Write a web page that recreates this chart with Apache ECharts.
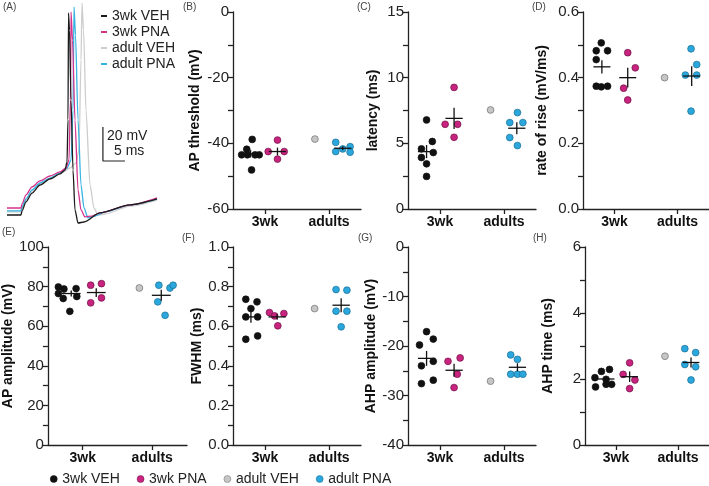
<!DOCTYPE html>
<html>
<head>
<meta charset="utf-8">
<script src="https://cdn.jsdelivr.net/npm/echarts@6/dist/echarts.min.js"></script>
<style>
  html, body { margin: 0; padding: 0; background: #fff; }
  #chart { width: 709px; height: 486px; }
</style>
</head>
<body>
<div id="chart"></div>
<script>
const groupNames = ['3wk VEH', '3wk PNA', 'adult VEH', 'adult PNA'];
const ageLabels = ['3wk', 'adults'];

// (A) example traces, [time ms, voltage mV]
const traceGrey = [[0,-79.4],[3.18,-79.4],[3.41,-77.1],[4.32,-72.4],[5.68,-67.1],[7.5,-63.0],[9.77,-60.0],[12.05,-57.1],[14.32,-53.6],[15.68,-50.7],[16.36,-43.0],[16.82,9.8],[17.05,43.2],[17.39,27.4],[17.95,-19.6],[18.86,-63.6],[19.77,-77.1],[20.68,-81.2],[22.27,-80.6],[27.95,-75.9],[34.1,-72.4]];
const traceBlue = [[0,-78.8],[3.18,-78.8],[3.41,-76.5],[4.32,-71.8],[5.68,-66.5],[7.5,-62.4],[9.77,-59.5],[12.05,-56.5],[13.64,-53.6],[14.55,-48.9],[15.0,-19.6],[15.23,40.9],[15.57,24.5],[16.14,-25.4],[16.82,-63.6],[17.5,-77.1],[18.41,-82.9],[20.0,-81.8],[22.27,-79.4],[27.95,-75.3],[34.1,-71.8]];
const tracePink = [[0,-77.1],[3.18,-77.1],[3.41,-74.7],[4.32,-69.4],[5.68,-64.7],[7.5,-61.2],[9.77,-58.3],[12.05,-55.9],[13.41,-53.6],[14.09,-48.9],[14.43,-13.7],[14.55,38.0],[14.89,21.5],[15.45,-25.4],[16.14,-66.5],[16.82,-78.2],[17.73,-82.3],[19.32,-81.8],[21.1,-80.0],[27.95,-75.3],[34.1,-71.2]];
const traceBlack = [[0,-81.2],[3.18,-81.2],[3.41,-78.8],[4.32,-73.5],[5.68,-68.3],[7.5,-63.6],[9.77,-60.0],[12.05,-57.1],[13.18,-54.8],[13.64,-50.1],[13.86,-25.4],[13.98,37.4],[14.2,27.4],[14.55,-13.7],[15.0,-54.8],[15.45,-78.2],[16.14,-85.9],[17.5,-85.3],[21.1,-80.0],[27.95,-75.3],[34.1,-71.8]];
const scaleBar = [[21.8,-29.5],[21.8,-49.5],[26.8,-49.5]]; // 20 mV, 5 ms

// group x positions: 3wk = 1, adults = 3
// (B) AP threshold (mV)
const thr3wkVeh = [[0.60,-38.8],[0.43,-41.8],[0.27,-43.5],[0.45,-43.5],[0.69,-43.5],[0.82,-43.5],[0.58,-48.1]];
const thr3wkPna = [[1.39,-39.0],[1.10,-42.5],[1.60,-42.5],[1.39,-44.8]];
const thrAdVeh = [[2.56,-38.7]];
const thrAdPna = [[3.21,-39.7],[3.21,-42.5],[3.43,-41.7],[3.66,-41.0],[3.66,-42.7]];
const thrMean = [[0.55,-43.2,1.1],[1.39,-42.5,1.2],[3.43,-41.5,0.6]];

// (C) latency (ms)
const lat3wkVeh = [[0.58,6.78],[0.76,5.14],[0.42,4.58],[0.79,4.30],[0.42,3.92],[0.58,3.44],[0.58,2.48]];
const lat3wkPna = [[1.44,9.26],[1.16,6.45],[1.55,6.45],[1.44,5.46]];
const latAdVeh = [[2.58,7.54]];
const latAdPna = [[3.42,7.34],[3.18,6.58],[3.59,6.58],[3.18,5.44],[3.42,4.83]];
const latMean = [[0.58,4.37,0.5],[1.44,6.9,0.8],[3.40,6.15,0.45]];

// (D) rate of rise (mV/ms)
const ror3wkVeh = [[0.58,0.506],[0.42,0.482],[0.78,0.482],[0.42,0.455],[0.42,0.374],[0.78,0.374],[0.58,0.372]];
const ror3wkPna = [[1.42,0.476],[1.66,0.430],[1.29,0.368],[1.42,0.332]];
const rorAdVeh = [[2.59,0.40]];
const rorAdPna = [[3.43,0.488],[3.61,0.44],[3.25,0.408],[3.61,0.408],[3.43,0.298]];
const rorMean = [[0.60,0.433,0.02],[1.42,0.40,0.03],[3.45,0.405,0.03]];

// (E) AP amplitude (mV)
const amp3wkVeh = [[0.30,79.8],[0.46,78.8],[0.81,79.0],[0.30,76.5],[0.83,75.0],[0.44,74.0],[0.63,67.5]];
const amp3wkPna = [[1.23,80.7],[1.54,81.5],[1.23,71.8],[1.54,74.3]];
const ampAdVeh = [[2.63,79.3]];
const ampAdPna = [[3.19,80.7],[3.51,79.3],[3.60,80.7],[3.16,72.3],[3.37,65.5]];
const ampMean = [[0.67,76.5,1.5],[1.39,77.0,2.2],[3.26,75.6,2.8]];

// (F) FWHM (ms)
const fw3wkVeh = [[0.40,0.736],[0.75,0.723],[0.56,0.689],[0.40,0.647],[0.77,0.647],[0.40,0.534],[0.77,0.551]];
const fw3wkPna = [[1.14,0.669],[1.30,0.652],[1.59,0.664],[1.40,0.602]];
const fwAdVeh = [[2.55,0.689]];
const fwAdPna = [[3.22,0.785],[3.56,0.782],[3.22,0.676],[3.56,0.676],[3.38,0.597]];
const fwMean = [[0.56,0.647,0.03],[1.38,0.647,0.015],[3.38,0.706,0.035]];

// (G) AHP amplitude (mV)
const ahp3wkVeh = [[0.58,-17.1],[0.36,-19.8],[0.79,-18.6],[0.42,-24.0],[0.79,-23.1],[0.42,-27.6],[0.79,-26.9]];
const ahp3wkPna = [[1.25,-23.1],[1.63,-22.4],[1.54,-25.7],[1.44,-28.4]];
const ahpAdVeh = [[2.58,-27.1]];
const ahpAdPna = [[3.21,-21.8],[3.42,-22.7],[3.21,-25.7],[3.42,-25.7],[3.59,-25.7]];
const ahpMean = [[0.58,-22.5,1.5],[1.44,-24.9,1.3],[3.42,-24.3,0.8]];

// (H) AHP time (ms)
const aht3wkVeh = [[0.34,1.76],[0.53,2.23],[0.79,2.29],[0.32,2.04],[0.68,1.99],[0.68,1.84],[0.86,1.84]];
const aht3wkPna = [[1.44,2.49],[1.23,2.14],[1.61,1.97],[1.44,1.71]];
const ahtAdVeh = [[2.58,2.69]];
const ahtAdPna = [[3.22,2.92],[3.57,2.80],[3.22,2.44],[3.57,2.37],[3.42,1.97]];
const ahtMean = [[0.68,2.0,0.07],[1.44,2.07,0.16],[3.42,2.5,0.15]];

const FONT = 'Arial, "Liberation Sans", sans-serif';
const dotColors = ['#111111', '#c8247f', '#c6c6c6', '#2aa7dc'];
const dotBorders = ['#111111', '#6e0f45', '#707070', '#1b6d91'];
const traceColors = ['#1a1a1a', '#d4338c', '#cdcdcd', '#36b3e0'];

// one entry per scatter panel
const panels = [
  { label: '(B)', name: 'AP threshold (mV)', min: -60, max: 0, step: 10, every: 2, dig: 0, gap: 31, sets: [thr3wkVeh, thr3wkPna, thrAdVeh, thrAdPna], mean: thrMean, grid: { left: 233, top: 12, width: 128, height: 197 } },
  { label: '(C)', name: 'latency (ms)', min: 0, max: 15, step: 2.5, every: 2, dig: 0, gap: 28, sets: [lat3wkVeh, lat3wkPna, latAdVeh, latAdPna], mean: latMean, grid: { left: 408, top: 12, width: 128, height: 197 } },
  { label: '(D)', name: 'rate of rise (mV/ms)', min: 0, max: 0.6, step: 0.1, every: 2, dig: 1, gap: 34, sets: [ror3wkVeh, ror3wkPna, rorAdVeh, rorAdPna], mean: rorMean, grid: { left: 583, top: 12, width: 126, height: 197 } },
  { label: '(E)', name: 'AP amplitude (mV)', min: 0, max: 100, step: 10, every: 2, dig: 0, gap: 25, sets: [amp3wkVeh, amp3wkPna, ampAdVeh, ampAdPna], mean: ampMean, grid: { left: 43, top: 247, width: 144, height: 198 } },
  { label: '(F)', name: 'FWHM (ms)', min: 0, max: 1, step: 0.1, every: 2, dig: 1, gap: 28, sets: [fw3wkVeh, fw3wkPna, fwAdVeh, fwAdPna], mean: fwMean, grid: { left: 233, top: 247, width: 128, height: 198 } },
  { label: '(G)', name: 'AHP amplitude (mV)', min: -40, max: 0, step: 5, every: 2, dig: 0, gap: 28, sets: [ahp3wkVeh, ahp3wkPna, ahpAdVeh, ahpAdPna], mean: ahpMean, grid: { left: 408, top: 247, width: 128, height: 198 } },
  { label: '(H)', name: 'AHP time (ms)', min: 0, max: 6, step: 1, every: 2, dig: 0, gap: 30, sets: [aht3wkVeh, aht3wkPna, ahtAdVeh, ahtAdPna], mean: ahtMean, grid: { left: 585, top: 247, width: 124, height: 198 } }
];

const axisLineStyle = { color: '#222', width: 1.3 };

const grids = [{ left: 7, top: 0, width: 154, height: 230 }];
const xAxes = [{ gridIndex: 0, type: 'value', min: 0, max: 35, show: false }];
const yAxes = [{ gridIndex: 0, type: 'value', min: -90, max: 45, show: false }];
const series = [];

[traceGrey, traceBlue, tracePink, traceBlack].forEach((d, i) => {
  const gi = [2, 3, 1, 0][i];
  series.push({
    name: groupNames[gi], type: 'line', xAxisIndex: 0, yAxisIndex: 0,
    data: d, showSymbol: false, smooth: 0.25, smoothMonotone: 'x',
    color: traceColors[gi], lineStyle: { width: 1.3, color: traceColors[gi] },
    silent: true, z: 2 + i
  });
});
series.push({
  type: 'line', xAxisIndex: 0, yAxisIndex: 0, data: scaleBar, showSymbol: false,
  lineStyle: { color: '#222', width: 1.2 }, silent: true
});

function meanItem(params, api) {
  const x = api.value(0), m = api.value(1), s = api.value(2);
  const l = api.coord([x - 0.27, m]), r = api.coord([x + 0.27, m]);
  const t = api.coord([x, m + s]), b = api.coord([x, m - s]);
  const st = { stroke: '#111', lineWidth: 1.3 };
  return {
    type: 'group', children: [
      { type: 'line', shape: { x1: l[0], y1: l[1], x2: r[0], y2: r[1] }, style: st },
      { type: 'line', shape: { x1: t[0], y1: t[1], x2: b[0], y2: b[1] }, style: st }
    ]
  };
}

panels.forEach((p, k) => {
  const gi = k + 1;
  grids.push(p.grid);
  xAxes.push({
    gridIndex: gi, type: 'value', min: 0, max: 4,
    axisLine: { show: true, onZero: false, lineStyle: axisLineStyle },
    axisTick: { show: true, customValues: [1, 3], length: 5, lineStyle: axisLineStyle },
    axisLabel: {
      customValues: [1, 3], margin: 6, color: '#111', fontSize: 14, fontWeight: 'bold', fontFamily: FONT,
      formatter: v => (v === 1 ? ageLabels[0] : ageLabels[1])
    },
    splitLine: { show: false }
  });
  yAxes.push({
    gridIndex: gi, type: 'value', min: p.min, max: p.max, interval: p.step,
    name: p.name, nameLocation: 'middle', nameGap: p.gap,
    nameTextStyle: { color: '#111', fontSize: 14, fontWeight: 'bold', fontFamily: FONT },
    axisLine: { show: true, onZero: false, lineStyle: axisLineStyle },
    axisTick: { show: true, length: 5, lineStyle: axisLineStyle },
    axisLabel: {
      margin: 4, color: '#222', fontSize: 15, fontFamily: FONT,
      formatter: v => {
        const n = Math.round((v - p.min) / p.step);
        return n % p.every === 0 ? v.toFixed(p.dig) : '';
      }
    },
    splitLine: { show: false }
  });
  p.sets.forEach((d, j) => {
    series.push({
      name: groupNames[j], type: 'scatter', xAxisIndex: gi, yAxisIndex: gi,
      data: d, symbolSize: 6.8, silent: true,
      itemStyle: { color: dotColors[j], borderColor: dotBorders[j], borderWidth: 0.7, opacity: 1 },
      z: 3
    });
  });
  series.push({
    type: 'custom', xAxisIndex: gi, yAxisIndex: gi, data: p.mean,
    renderItem: meanItem, encode: { x: 0, y: 1 }, silent: true, z: 5
  });
});

const panelLabels = [['(A)', 3, 2]].concat(panels.map((p, k) => {
  const pos = [[183, 2], [357, 2], [532, 2], [2, 227], [182, 233], [358, 233], [533, 233]][k];
  return [p.label, pos[0], pos[1]];
}));

const graphic = panelLabels.map(l => ({
  type: 'text', left: l[1], top: l[2],
  style: { text: l[0], fill: '#444', font: '10px ' + FONT }
}));
graphic.push(
  { type: 'text', left: 107, top: 129, style: { text: '20 mV', fill: '#222', font: '14px ' + FONT } },
  { type: 'text', left: 114, top: 144, style: { text: '5 ms', fill: '#222', font: '14px ' + FONT } }
);

const option = {
  animation: false,
  backgroundColor: '#fff',
  textStyle: { fontFamily: FONT },
  grid: grids,
  xAxis: xAxes,
  yAxis: yAxes,
  legend: [
    {
      data: groupNames.map((n, i) => ({ name: n, itemStyle: { color: traceColors[i] } })),
      orient: 'vertical', left: 96, top: 4, icon: 'rect', itemWidth: 6, itemHeight: 2, itemGap: 2,
      selectedMode: false,
      textStyle: { color: '#222', fontSize: 14, fontFamily: FONT, lineHeight: 14 }
    },
    {
      data: groupNames.map((n, i) => ({ name: n, itemStyle: { color: dotColors[i], borderColor: dotBorders[i], borderWidth: 0.5 } })),
      orient: 'horizontal', left: 45, top: 467, icon: 'circle', itemWidth: 7, itemHeight: 7, itemGap: 17,
      selectedMode: false,
      textStyle: { color: '#222', fontSize: 14, fontFamily: FONT }
    }
  ],
  graphic: graphic,
  series: series
};

const chart = echarts.init(document.getElementById('chart'));
chart.setOption(option);
</script>
</body>
</html>
